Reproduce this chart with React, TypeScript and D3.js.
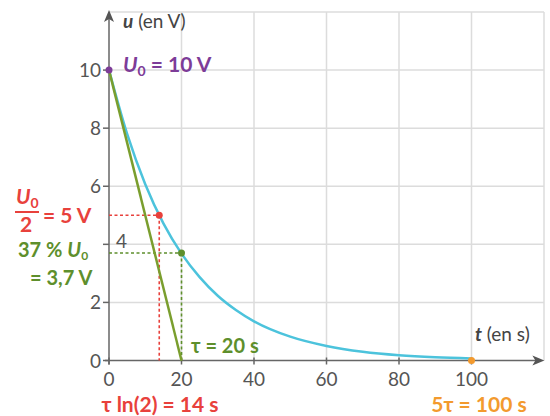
import React from 'react';
import * as d3 from 'd3';

// values
const curveT = [0, 5, 10, 15, 20, 25, 30, 35, 40, 50, 60, 70, 80, 90, 100];
const curveU = [10, 7.8, 6.07, 4.72, 3.68, 2.87, 2.23, 1.74, 1.35, 0.82, 0.5, 0.3, 0.18, 0.11, 0.07];
const tangentT = [0, 20];
const tangentU = [10, 0];
const xTicks = [0, 20, 40, 60, 80, 100];
const yTicksLeft = [0, 2, 6, 8, 10];
const yTicksRight = [4];
const xGrid = [20, 40, 60, 80, 100, 120];
const yGrid = [2, 4, 6, 8, 10, 12];
const halfT = 13.86;
const halfU = 5;
const tauT = 20;
const tauU = 3.7;
const endT = 100;

const FONT = "Lato, 'Liberation Sans', sans-serif";
const RED = '#e8413c';
const GREEN = '#5e8f2c';
const LINE_GREEN = '#7a9e2e';
const PURPLE = '#7d3c98';
const ORANGE = '#f39a2e';
const CYAN = '#4cc3dc';
const GRAY = '#555';

type Pt = { t: number; u: number };

const App = () => {
  const width = 550;
  const height = 416;
  const x = d3.scaleLinear().domain([0, 120]).range([109, 544]);
  const y = d3.scaleLinear().domain([0, 12]).range([360.5, 12]);

  const curveData: Pt[] = curveT.map((t, i) => ({ t, u: curveU[i] }));
  const tangentData: Pt[] = tangentT.map((t, i) => ({ t, u: tangentU[i] }));
  const line = d3.line<Pt>().x(d => x(d.t)).y(d => y(d.u));
  const smooth = d3.line<Pt>().x(d => x(d.t)).y(d => y(d.u)).curve(d3.curveMonotoneX);

  return (
    <svg width={width} height={height} style={{ position: 'absolute', left: 0, top: 0, background: '#fff' }}
      fontFamily={FONT}>
      {/* grid */}
      <g stroke="#dcdcdc" strokeWidth={1.5}>
        {xGrid.map(v => <line key={'gx' + v} x1={x(v)} x2={x(v)} y1={y(0)} y2={y(12)} />)}
        {yGrid.map(v => <line key={'gy' + v} x1={x(0)} x2={x(120)} y1={y(v)} y2={y(v)} />)}
      </g>

      {/* axes */}
      <g stroke="#666" strokeWidth={1.5}>
        <line x1={x(0)} x2={x(0)} y1={y(0) + 4} y2={y(12) + 2} />
        <line x1={x(0) - 4} x2={x(119)} y1={y(0)} y2={y(0)} />
        {xTicks.map(v => <line key={'tx' + v} x1={x(v)} x2={x(v)} y1={y(0) - 3} y2={y(0) + 4} />)}
        {[...yTicksLeft, ...yTicksRight].map(v => <line key={'ty' + v} x1={x(0) - 6} x2={x(0)} y1={y(v)} y2={y(v)} />)}
      </g>
      <path d={`M${x(0)},${y(12) - 2} l-5,12 l5,-3 l5,3 z`} fill="#555" />
      <path d={`M${x(119) + 4},${y(0)} l-12,-5 l3,5 l-3,5 z`} fill="#555" />

      {/* tick labels */}
      <g fill={GRAY} fontSize={19}>
        {xTicks.map(v => (
          <text key={'lx' + v} x={x(v)} y={y(0) + 25} textAnchor="middle">{v}</text>
        ))}
        {yTicksLeft.map(v => (
          <text key={'ly' + v} x={x(0) - 8} y={y(v) + 7} textAnchor="end">{v}</text>
        ))}
        {yTicksRight.map(v => (
          <text key={'lr' + v} x={x(0) + 7} y={y(v) + 4} textAnchor="start">{v}</text>
        ))}
      </g>

      {/* axis titles */}
      <text x={123} y={28} fontSize={19} fill="#444">
        <tspan fontStyle="italic" fontWeight="bold">u</tspan>
        <tspan> (en V)</tspan>
      </text>
      <text x={475} y={341} fontSize={19} fill="#444">
        <tspan fontStyle="italic" fontWeight="bold">t</tspan>
        <tspan> (en s)</tspan>
      </text>

      {/* dotted guides */}
      <g strokeWidth={1.6} strokeDasharray="3,2.5">
        <line x1={x(0)} x2={x(halfT)} y1={y(halfU)} y2={y(halfU)} stroke={RED} />
        <line x1={x(halfT)} x2={x(halfT)} y1={y(halfU)} y2={y(0)} stroke={RED} />
        <line x1={x(0)} x2={x(tauT)} y1={y(tauU)} y2={y(tauU)} stroke={GREEN} />
        <line x1={x(tauT)} x2={x(tauT)} y1={y(tauU)} y2={y(0)} stroke={GREEN} />
      </g>

      {/* curve and tangent */}
      <path d={smooth(curveData) || ''} fill="none" stroke={CYAN} strokeWidth={2.5} />
      <path d={line(tangentData) || ''} fill="none" stroke={LINE_GREEN} strokeWidth={2.5} />

      {/* markers */}
      <circle cx={x(0)} cy={y(10)} r={3.5} fill={PURPLE} />
      <circle cx={x(halfT)} cy={y(halfU)} r={3.5} fill={RED} />
      <circle cx={x(tauT)} cy={y(tauU)} r={3.5} fill={GREEN} />
      <circle cx={x(endT)} cy={y(0)} r={3.5} fill={ORANGE} />

      {/* annotations */}
      <text x={123} y={72} fontSize={21} fill={PURPLE} fontWeight="bold">
        <tspan fontStyle="italic">U</tspan>
        <tspan fontSize={14} dy={4}>0</tspan>
        <tspan dy={-4}> = 10 V</tspan>
      </text>

      <g fill={RED} fontWeight="bold" fontSize={21}>
        <text x={16} y={204}>
          <tspan fontStyle="italic">U</tspan>
          <tspan fontSize={14} dy={4}>0</tspan>
        </text>
        <line x1={15} x2={39} y1={212} y2={212} stroke={RED} strokeWidth={2} />
        <text x={20} y={232}>2</text>
        <text x={43} y={223}>= 5 V</text>
      </g>

      <g fill={GREEN} fontWeight="bold" fontSize={20}>
        <text x={18} y={257}>
          37 % <tspan fontStyle="italic">U</tspan>
          <tspan fontSize={12} dy={3}>0</tspan>
        </text>
        <text x={30} y={285}>= 3,7 V</text>
        <text x={191} y={353}>τ = 20 s</text>
      </g>

      <text x={160} y={412} fontSize={21} fontWeight="bold" fill={RED} textAnchor="middle">τ ln(2) = 14 s</text>
      <text x={479} y={412} fontSize={21} fontWeight="bold" fill={ORANGE} textAnchor="middle">5τ = 100 s</text>
    </svg>
  );
};

export default App;
